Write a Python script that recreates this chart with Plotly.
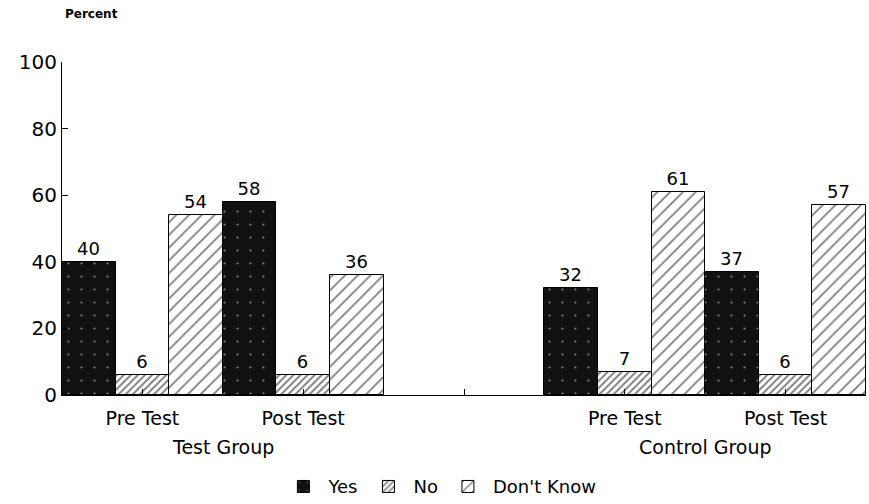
import plotly.graph_objects as go

categories = ["Test Pre", "Test Post", "Gap", "Control Pre", "Control Post"]
tick_labels = ["Pre Test", "Post Test", "", "Pre Test", "Post Test"]
group_labels = ["Test Group", "Control Group"]
bar_cats = ["Test Pre", "Test Post", "Control Pre", "Control Post"]
yes_vals = [40, 58, 32, 37]
no_vals = [6, 6, 7, 6]
dk_vals = [54, 36, 61, 57]

FONT = "DejaVu Sans"

fig = go.Figure()
fig.add_trace(go.Bar(
    name="Yes", x=bar_cats, y=yes_vals, text=yes_vals, textposition="outside",
    marker=dict(color="#111111", line=dict(color="black", width=1),
                pattern=dict(shape=".", fgcolor="white", bgcolor="#111111", size=13, solidity=0.02)),
))
fig.add_trace(go.Bar(
    name="No", x=bar_cats, y=no_vals, text=no_vals, textposition="outside",
    marker=dict(color="white", line=dict(color="black", width=1),
                pattern=dict(shape="/", fgcolor="black", bgcolor="white", size=5, solidity=0.4)),
))
fig.add_trace(go.Bar(
    name="Don't Know", x=bar_cats, y=dk_vals, text=dk_vals, textposition="outside",
    marker=dict(color="white", line=dict(color="black", width=1),
                pattern=dict(shape="/", fgcolor="black", bgcolor="white", size=9, solidity=0.2)),
))

fig.update_traces(textfont=dict(size=18, color="black", family=FONT), cliponaxis=False)

fig.update_layout(
    width=869, height=504,
    margin=dict(l=62, r=3, t=62, b=109, autoexpand=False),
    plot_bgcolor="white", paper_bgcolor="white",
    barmode="group", bargap=0, bargroupgap=0,
    font=dict(family=FONT, color="black", size=18),
    showlegend=True,
    legend=dict(orientation="h", x=0.47, xanchor="center", y=-0.22, yanchor="top",
                font=dict(size=18, family=FONT), itemwidth=40, traceorder="normal"),
    xaxis=dict(
        type="category", categoryorder="array", categoryarray=categories,
        range=[-0.5, 4.5], tickmode="array", tickvals=categories, ticktext=tick_labels,
        ticks="inside", ticklen=6, tickcolor="black", showline=True, linecolor="black",
        linewidth=1, showgrid=False, tickfont=dict(size=19, family=FONT), zeroline=False,
        automargin=False, ticklabelstandoff=6,
    ),
    yaxis=dict(
        range=[0, 100], tickvals=[0, 20, 40, 60, 80, 100], ticks="inside", ticklen=6,
        tickcolor="black", showline=True, linecolor="black", linewidth=1, showgrid=False,
        zeroline=False, tickfont=dict(size=20, family=FONT), automargin=False,
    ),
)

fig.add_annotation(x=0.5, y=0, xref="x", yref="paper", text=group_labels[0], showarrow=False,
                   yanchor="middle", yshift=-52, font=dict(size=19, family=FONT))
fig.add_annotation(x=3.5, y=0, xref="x", yref="paper", text=group_labels[1], showarrow=False,
                   yanchor="middle", yshift=-52, font=dict(size=19, family=FONT))
fig.add_annotation(x=0, y=1, xref="paper", yref="paper", text="<b>Percent</b>", showarrow=False,
                   xanchor="center", yanchor="middle", xshift=29, yshift=48,
                   font=dict(size=12, family=FONT))

fig.write_html("out.html", config={"displayModeBar": False},
               post_script="document.body.style.margin='0px';")
